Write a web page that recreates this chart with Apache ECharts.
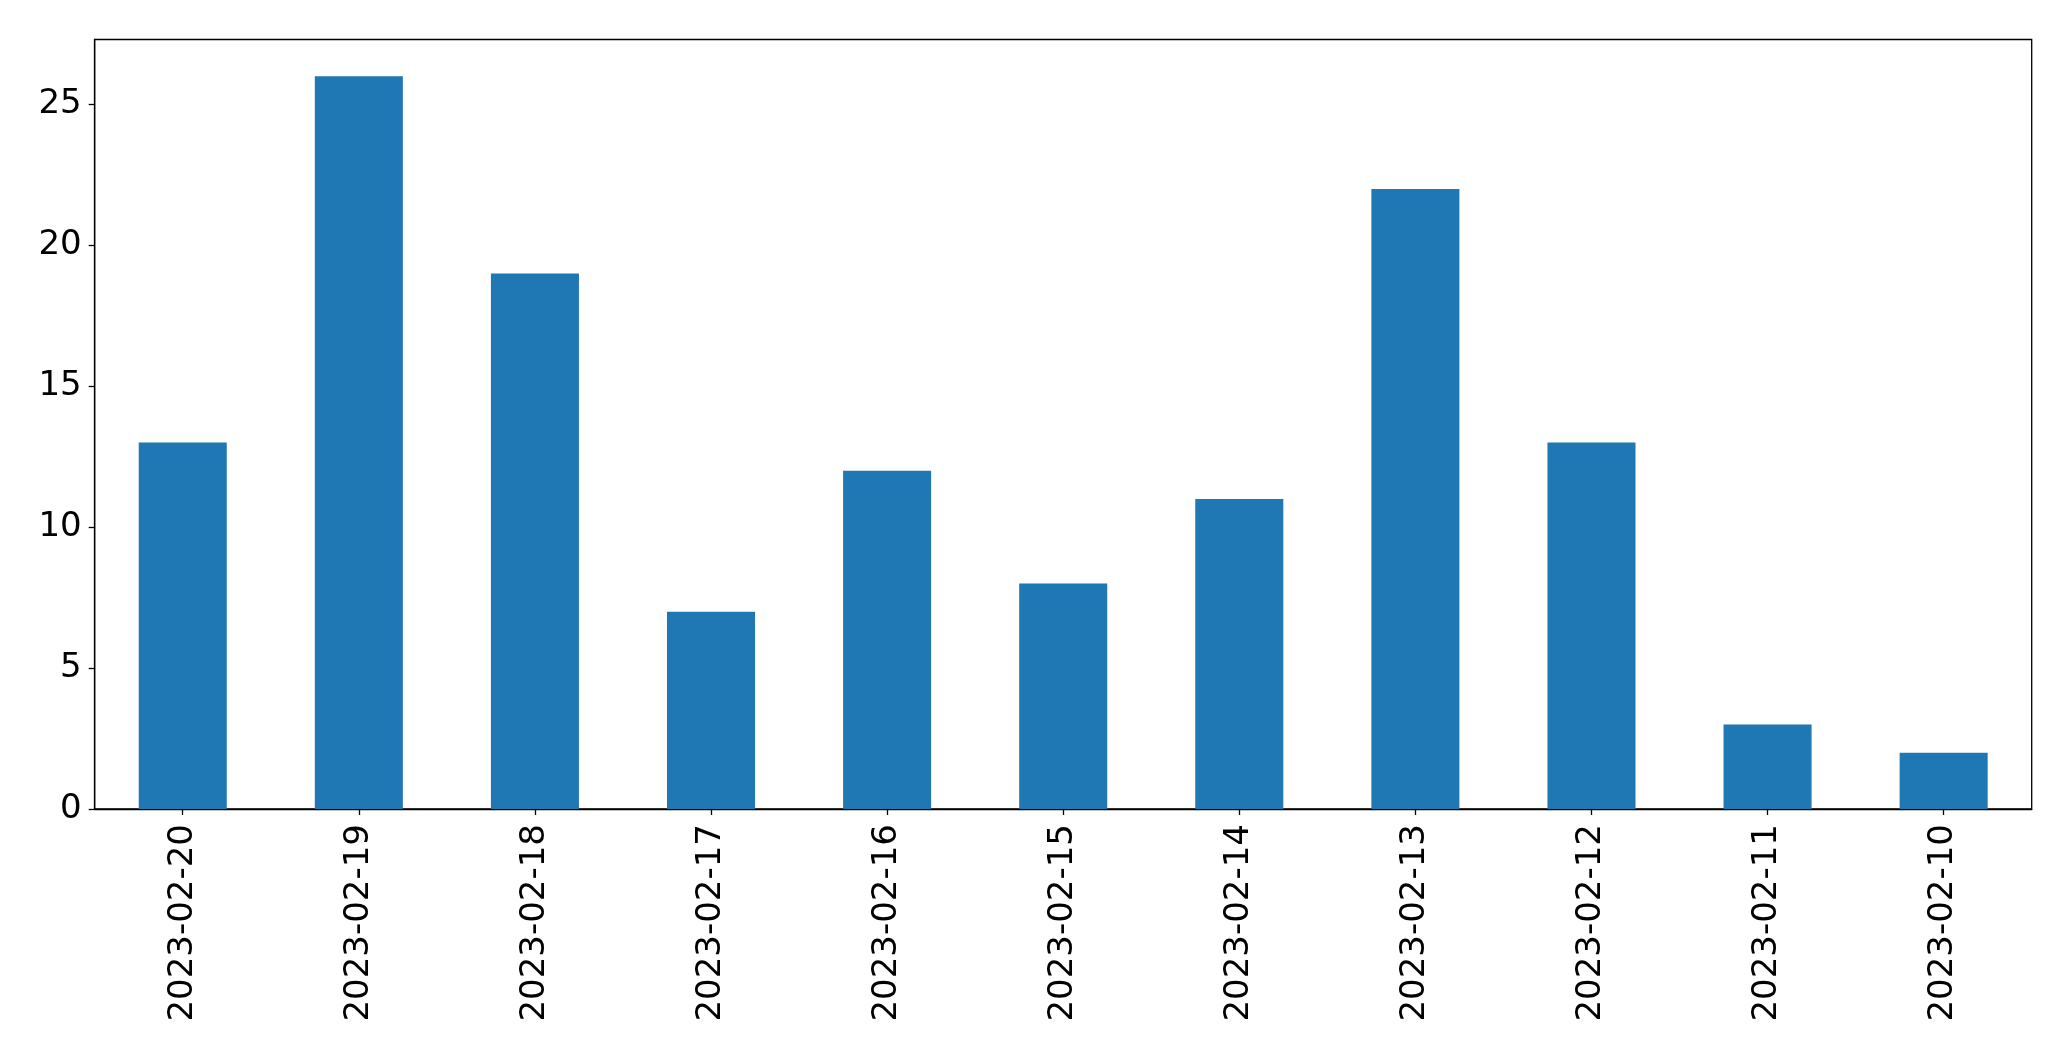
<!DOCTYPE html>
<html>
<head>
<meta charset="utf-8">
<script src="https://cdn.jsdelivr.net/npm/echarts@6/dist/echarts.min.js"></script>
<style>
html,body{margin:0;padding:0;background:#fff;}
#chart{width:2071px;height:1061px;}
</style>
</head>
<body>
<div id="chart"></div>
<script>
const categories = ["2023-02-20","2023-02-19","2023-02-18","2023-02-17","2023-02-16","2023-02-15","2023-02-14","2023-02-13","2023-02-12","2023-02-11","2023-02-10"];
const counts = [13, 26, 19, 7, 12, 8, 11, 22, 13, 3, 2];
const yTicks = [0, 5, 10, 15, 20, 25];

const chart = echarts.init(document.getElementById('chart'), null, {renderer: 'canvas'});
const font = 'DejaVu Sans';
chart.setOption({
  animation: false,
  backgroundColor: '#fff',
  grid: {
    left: 94.7, right: 39.3, top: 39.5, bottom: 252,
    show: true, borderColor: '#000', borderWidth: 1.3, backgroundColor: 'transparent'
  },
  xAxis: {
    type: 'category',
    data: categories,
    boundaryGap: true,
    axisLine: {show: true, lineStyle: {color: '#000', width: 1.3}},
    axisTick: {show: true, alignWithLabel: true, length: 6, lineStyle: {color: '#000', width: 1.3}},
    axisLabel: {rotate: 90, margin: 15, color: '#000', fontFamily: font, fontSize: 34, interval: 0},
    splitLine: {show: false}
  },
  yAxis: {
    type: 'value',
    min: 0, max: 27.3, interval: 5,
    axisLine: {show: true, lineStyle: {color: '#000', width: 1.3}},
    axisTick: {show: true, length: 6, lineStyle: {color: '#000', width: 1.3}},
    axisLabel: {
      margin: 13, color: '#000', fontFamily: font, fontSize: 34,
      formatter: function (v) { return yTicks.indexOf(v) >= 0 ? String(v) : ''; },
      showMaxLabel: false
    },
    splitLine: {show: false}
  },
  series: [{
    type: 'bar',
    data: counts,
    barWidth: '50%',
    itemStyle: {color: '#1f77b4'}
  }]
});
</script>
</body>
</html>
